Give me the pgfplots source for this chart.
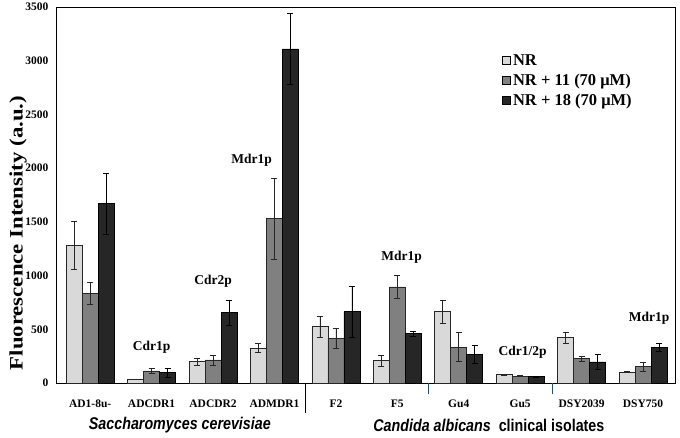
\documentclass[border=0pt]{standalone}
\usepackage{pgfplots}
\usepackage{pgfplotstable}
\usepackage{fontspec}
\setmainfont{Liberation Serif}
\newfontfamily\widefont[FakeStretch=1.2]{Liberation Serif}
\newfontfamily\narrowsans[FakeStretch=0.84]{Liberation Sans}
\pgfplotsset{compat=1.18}

\definecolor{nrlight}{HTML}{D9D9D9}
\definecolor{nrmid}{HTML}{808080}
\definecolor{nrdark}{HTML}{262626}
\definecolor{sepblue}{HTML}{1F4E79}

% x, NR, err, NR+11, err, NR+18, err
\pgfplotstableread{
x  a     ae   b     be   c     ce
0  1280  225  835   100  1670  285
1  35    3    112   22   97    40
2  200   35   215   48   655   115
3  325   42   1530  380  3110  330
4  525   98   415   95   665   240
5  208   52   895   110  458   24
6  665   108  335   135  268   82
7  80    6    65    4    60    3
8  425   52   225   26   196   72
9  102   6    152   40   333   34
}\datatable

\begin{document}
\begin{tikzpicture}
\begin{axis}[
    scale only axis,
    width=618pt, height=376pt,
    ybar=0pt,
    bar width=0.26,
    xmin=-0.54, xmax=9.52,
    ymin=0, ymax=3500,
    ytick={0,500,...,3500},
    xtick=data,
    xticklabels={AD1-8u-,ADCDR1,ADCDR2,ADMDR1,F2,F5,Gu4,Gu5,DSY2039,DSY750},
    x tick label style={font=\fontsize{11.5}{13}\selectfont\bfseries, yshift=-9pt},
    y tick label style={font=\fontsize{11.5}{13}\selectfont\bfseries, xshift=-5pt},
    /pgf/number format/assume math mode=true,
    /pgf/number format/1000 sep={},
    xtick style={draw=none},
    ytick style={draw=none},
    axis line style={black, line width=1pt},
    legend style={draw=none, fill=none, at={(0.72,0.88)}, anchor=north west,
        inner sep=0pt, font=\fontsize{16.5}{18}\selectfont\bfseries, row sep=3pt,
        legend cell align=left},
    legend image code/.code={\draw[#1, draw=black, line width=0.9pt] (0pt,-4pt) rectangle (8pt,4pt);},
    clip=false,
]
\addplot[fill=nrlight, draw=nrdark, line width=0.7pt,
    error bars/.cd, y dir=both, y explicit,
    error bar style={line width=0.6pt, nrdark}, error mark options={rotate=90, mark size=3pt}]
    table[x=x, y=a, y error=ae] {\datatable};
\addplot[fill=nrmid, draw=nrdark, line width=0.7pt,
    error bars/.cd, y dir=both, y explicit,
    error bar style={line width=0.6pt, nrdark}, error mark options={rotate=90, mark size=3pt}]
    table[x=x, y=b, y error=be] {\datatable};
\addplot[fill=nrdark, draw=black, line width=0.7pt,
    error bars/.cd, y dir=both, y explicit,
    error bar style={line width=0.6pt, black}, error mark options={rotate=90, mark size=3pt}]
    table[x=x, y=c, y error=ce] {\datatable};
\legend{NR, NR + 11 (70 μM), NR + 18 (70 μM)}

% protein annotations
\begin{scope}[font=\fontsize{13.5}{15}\selectfont\bfseries]
\node at (axis cs:1,330) {Cdr1p};
\node at (axis cs:2,945) {Cdr2p};
\node at (axis cs:2.63,2075) {Mdr1p};
\node at (axis cs:5.07,1170) {Mdr1p};
\node at (axis cs:7.04,282) {Cdr1/2p};
\node at (axis cs:9.1,603) {Mdr1p};
\end{scope}

% y label
\path (rel axis cs:0,0.5) ++(-39pt,-38pt)
    node[rotate=90, font=\widefont\fontsize{19}{22}\selectfont\bfseries] {Fluorescence Intensity (a.u.)};

% group separators
\draw[black, line width=1.3pt] (axis cs:3.51,0) -- ++(0pt,-30pt);
\draw[sepblue, line width=1.3pt] (axis cs:5.51,0) -- ++(0pt,-11pt);
\draw[sepblue, line width=1.3pt] (axis cs:7.53,0) -- ++(0pt,-11pt);

% species labels
\node[font=\narrowsans\fontsize{17}{20}\selectfont\bfseries\itshape] at (axis cs:1.46,0) [yshift=-42pt] {Saccharomyces cerevisiae};
\node[font=\narrowsans\fontsize{17}{20}\selectfont\bfseries] at (axis cs:6.49,0) [yshift=-42pt] {\itshape Candida albicans\upshape\ \ clinical isolates};

\coordinate (ll) at (rel axis cs:0,0);
\coordinate (ur) at (rel axis cs:1,1);
\end{axis}
\pgfresetboundingbox
\path (ll) ++(-57pt,-54pt) coordinate (bbA);
\path (ur) ++(5pt,7pt) coordinate (bbB);
\useasboundingbox (bbA) rectangle (bbB);
\end{tikzpicture}
\end{document}
